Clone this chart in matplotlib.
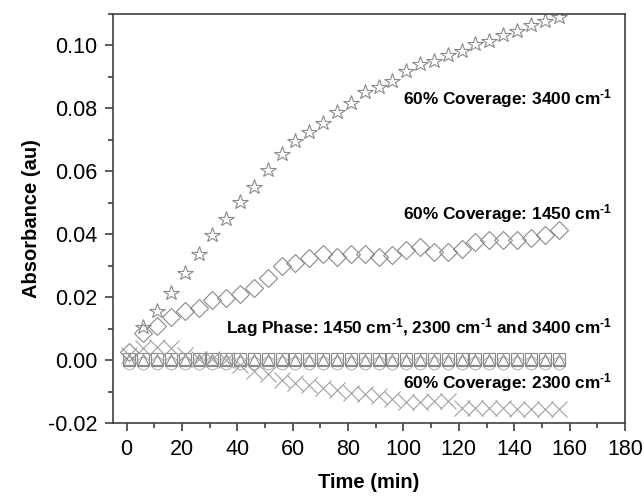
import matplotlib
matplotlib.use("Agg")
import matplotlib.pyplot as plt
from matplotlib.ticker import MultipleLocator, FormatStrFormatter

plt.rcParams["font.family"] = ["Liberation Sans", "DejaVu Sans"]
# bold superscripts in the annotations
plt.rcParams["mathtext.fontset"] = "custom"
plt.rcParams["mathtext.rm"] = "Liberation Sans:bold"
plt.rcParams["mathtext.default"] = "rm"

# sampling times (min)
time = [1, 6, 11, 16, 21, 26, 31, 36, 41, 46, 51, 56, 61, 66, 71, 76,
        81, 86, 91, 96, 101, 106, 111, 116, 121, 126, 131, 136, 141, 146, 151, 156]

# 60% coverage, 3400 cm-1 (starts at 6 min)
cov_3400 = [0.0107, 0.0158, 0.0213, 0.0276, 0.0337, 0.0399, 0.0450, 0.0502,
            0.0552, 0.0606, 0.0655, 0.0697, 0.0726, 0.0755, 0.0790, 0.0818,
            0.0853, 0.0868, 0.0887, 0.0918, 0.0940, 0.0952, 0.0971, 0.0984,
            0.1005, 0.1015, 0.1034, 0.1047, 0.1066, 0.1079, 0.1092]

# 60% coverage, 1450 cm-1
cov_1450 = [0.0025, 0.0088, 0.0110, 0.0137, 0.0157, 0.0166, 0.0192, 0.0197,
            0.0210, 0.0229, 0.0260, 0.0299, 0.0308, 0.0324, 0.0337, 0.0327,
            0.0337, 0.0339, 0.0327, 0.0336, 0.0350, 0.0360, 0.0344, 0.0344,
            0.0355, 0.0376, 0.0381, 0.0381, 0.0381, 0.0387, 0.0397, 0.0413]

# 60% coverage, 2300 cm-1
cov_2300 = [0.0018, 0.0039, 0.0042, 0.0039, 0.0018, 0.0005, 0.0003, 0.0000,
            -0.0014, -0.0035, -0.0045, -0.0061, -0.0071, -0.0077, -0.0087, -0.0093,
            -0.0103, -0.0108, -0.0114, -0.0124, -0.0133, -0.0133, -0.0130, -0.0130,
            -0.0152, -0.0152, -0.0153, -0.0153, -0.0154, -0.0154, -0.0155, -0.0155]

# lag phase at the three wavenumbers
lag_1450 = [0.0003, 0.0003, 0.0003, 0.0003, 0.0003, 0.0003, 0.0003, 0.0003,
            0.0003, 0.0003, 0.0003, 0.0003, 0.0003, 0.0003, 0.0003, 0.0003,
            0.0003, 0.0003, 0.0003, 0.0003, 0.0003, 0.0003, 0.0003, 0.0003,
            0.0003, 0.0003, 0.0003, 0.0003, 0.0003, 0.0003, 0.0003, 0.0003]
lag_2300 = [0.0000, 0.0000, 0.0000, 0.0000, 0.0000, 0.0000, 0.0000, 0.0000,
            0.0000, 0.0000, 0.0000, 0.0000, 0.0000, 0.0000, 0.0000, 0.0000,
            0.0000, 0.0000, 0.0000, 0.0000, 0.0000, 0.0000, 0.0000, 0.0000,
            0.0000, 0.0000, 0.0000, 0.0000, 0.0000, 0.0000, 0.0000, 0.0000]
lag_3400 = [-0.0010, -0.0010, -0.0010, -0.0010, -0.0010, -0.0010, -0.0010, -0.0010,
            -0.0010, -0.0010, -0.0010, -0.0010, -0.0010, -0.0010, -0.0010, -0.0010,
            -0.0010, -0.0010, -0.0010, -0.0010, -0.0010, -0.0010, -0.0010, -0.0010,
            -0.0010, -0.0010, -0.0010, -0.0010, -0.0010, -0.0010, -0.0010, -0.0010]

sup = r"$^{\text{-1}}$"
labels = ["60% Coverage: 3400 cm" + sup,
          "60% Coverage: 1450 cm" + sup,
          "Lag Phase: 1450 cm" + sup + ", 2300 cm" + sup + " and 3400 cm" + sup,
          "60% Coverage: 2300 cm" + sup]
label_y = [0.0833, 0.0467, 0.0103, -0.0070]

fig = plt.figure(figsize=(6.44, 4.96), dpi=100)
ax = fig.add_axes([0.175, 0.1466, 0.7955, 0.8252])

mk = dict(linestyle="none", markerfacecolor="none", markeredgewidth=0.8)
ax.plot(time, lag_3400, marker="o", markersize=9, markeredgecolor="#b5b5b5", **mk)
ax.plot(time, lag_1450, marker="s", markersize=9, markeredgecolor="#8a8a8a", **mk)
ax.plot(time, lag_2300, marker="^", markersize=9, markeredgecolor="#8a8a8a", **mk)
ax.plot(time, cov_2300, marker="x", markersize=11, markeredgecolor="#a0a0a0", **mk)
ax.plot(time, cov_1450, marker="D", markersize=9, markeredgecolor="#8a8a8a", **mk)
ax.plot(time[1:], cov_3400, marker="*", markersize=11.5, markeredgecolor="#8a8a8a", **mk)

for txt, yy in zip(labels, label_y):
    ax.text(175.5, yy, txt, ha="right", va="center", fontsize=12.4,
            fontweight="bold", color="black")

ax.set_xlim(-5, 180)
ax.set_ylim(-0.02, 0.11)
ax.xaxis.set_major_locator(MultipleLocator(20))
ax.xaxis.set_minor_locator(MultipleLocator(10))
ax.yaxis.set_major_locator(MultipleLocator(0.02))
ax.yaxis.set_minor_locator(MultipleLocator(0.01))
ax.yaxis.set_major_formatter(FormatStrFormatter("%.2f"))

for s in ax.spines.values():
    s.set_linewidth(1.2)
    s.set_color("#404040")
ax.tick_params(which="major", direction="out", length=6, width=1.2,
               color="#404040", labelsize=15.5, pad=5)
ax.tick_params(which="minor", direction="out", length=3.5, width=1.2,
               color="#404040")

ax.set_xlabel("Time (min)", fontsize=14.5, fontweight="bold", labelpad=10)
ax.set_ylabel("Absorbance (au)", fontsize=14.5, fontweight="bold", labelpad=5)

fig.savefig("out.png", dpi=100)
